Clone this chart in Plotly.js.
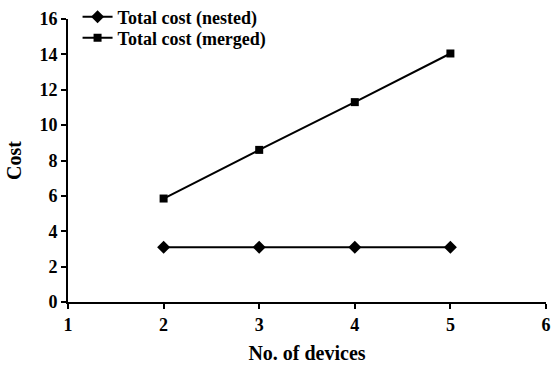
<!DOCTYPE html>
<html><head><meta charset="utf-8">
<script src="https://cdn.plot.ly/plotly-3.0.1.min.js"></script>
<style>html,body{margin:0;padding:0;background:#fff}#c{width:554px;height:366px}</style>
</head><body><div id="c"></div>
<script>
var devices = [2, 3, 4, 5];
var nestedCost = [3.1, 3.1, 3.1, 3.1];
var mergedCost = [5.85, 8.6, 11.3, 14.05];
var seriesNames = ["Total cost (nested)", "Total cost (merged)"];
var xTicks = [1, 2, 3, 4, 5, 6];
var yTicks = [0, 2, 4, 6, 8, 10, 12, 14, 16];

var F = "Liberation Serif, Times New Roman, serif";
var traces = [
  {x: devices, y: nestedCost, name: seriesNames[0], mode: "lines+markers", legend: "legend",
   line: {color: "#000", width: 2}, marker: {symbol: "diamond", size: 10, color: "#000"}},
  {x: devices, y: mergedCost, name: seriesNames[1], mode: "lines+markers", legend: "legend2",
   line: {color: "#000", width: 2}, marker: {symbol: "square", size: 8, color: "#000"}}
];
var axisCommon = {showgrid: false, zeroline: false, showline: true, linecolor: "#000", linewidth: 2,
  ticks: "outside", ticklen: 5, tickwidth: 2, tickcolor: "#000",
  tickfont: {family: F, size: 18, color: "#000", weight: "bold"}};
var legFont = {family: F, size: 18, color: "#000", weight: "bold"};
var layout = {
  width: 554, height: 366,
  margin: {l: 68, r: 8, t: 19, b: 64, autoexpand: false},
  paper_bgcolor: "#fff", plot_bgcolor: "#fff",
  font: {family: F, color: "#000"},
  showlegend: true,
  legend: {x: 0.02, y: 1.007, xanchor: "left", yanchor: "middle", bgcolor: "rgba(0,0,0,0)",
    font: legFont, itemwidth: 30},
  legend2: {x: 0.02, y: 0.933, xanchor: "left", yanchor: "middle", bgcolor: "rgba(0,0,0,0)",
    font: legFont, itemwidth: 30},
  xaxis: Object.assign({}, axisCommon, {range: [1, 6], tickvals: xTicks, ticktext: xTicks.map(String),
    title: {text: "No. of devices", font: {family: F, size: 20, color: "#000", weight: "bold"}, standoff: 12}}),
  yaxis: Object.assign({}, axisCommon, {range: [0, 16], tickvals: yTicks, ticktext: yTicks.map(String),
    title: {text: "Cost", font: {family: F, size: 20, color: "#000", weight: "bold"}, standoff: 12}})
};
Plotly.newPlot("c", traces, layout, {displayModeBar: false, staticPlot: true});
</script></body></html>
